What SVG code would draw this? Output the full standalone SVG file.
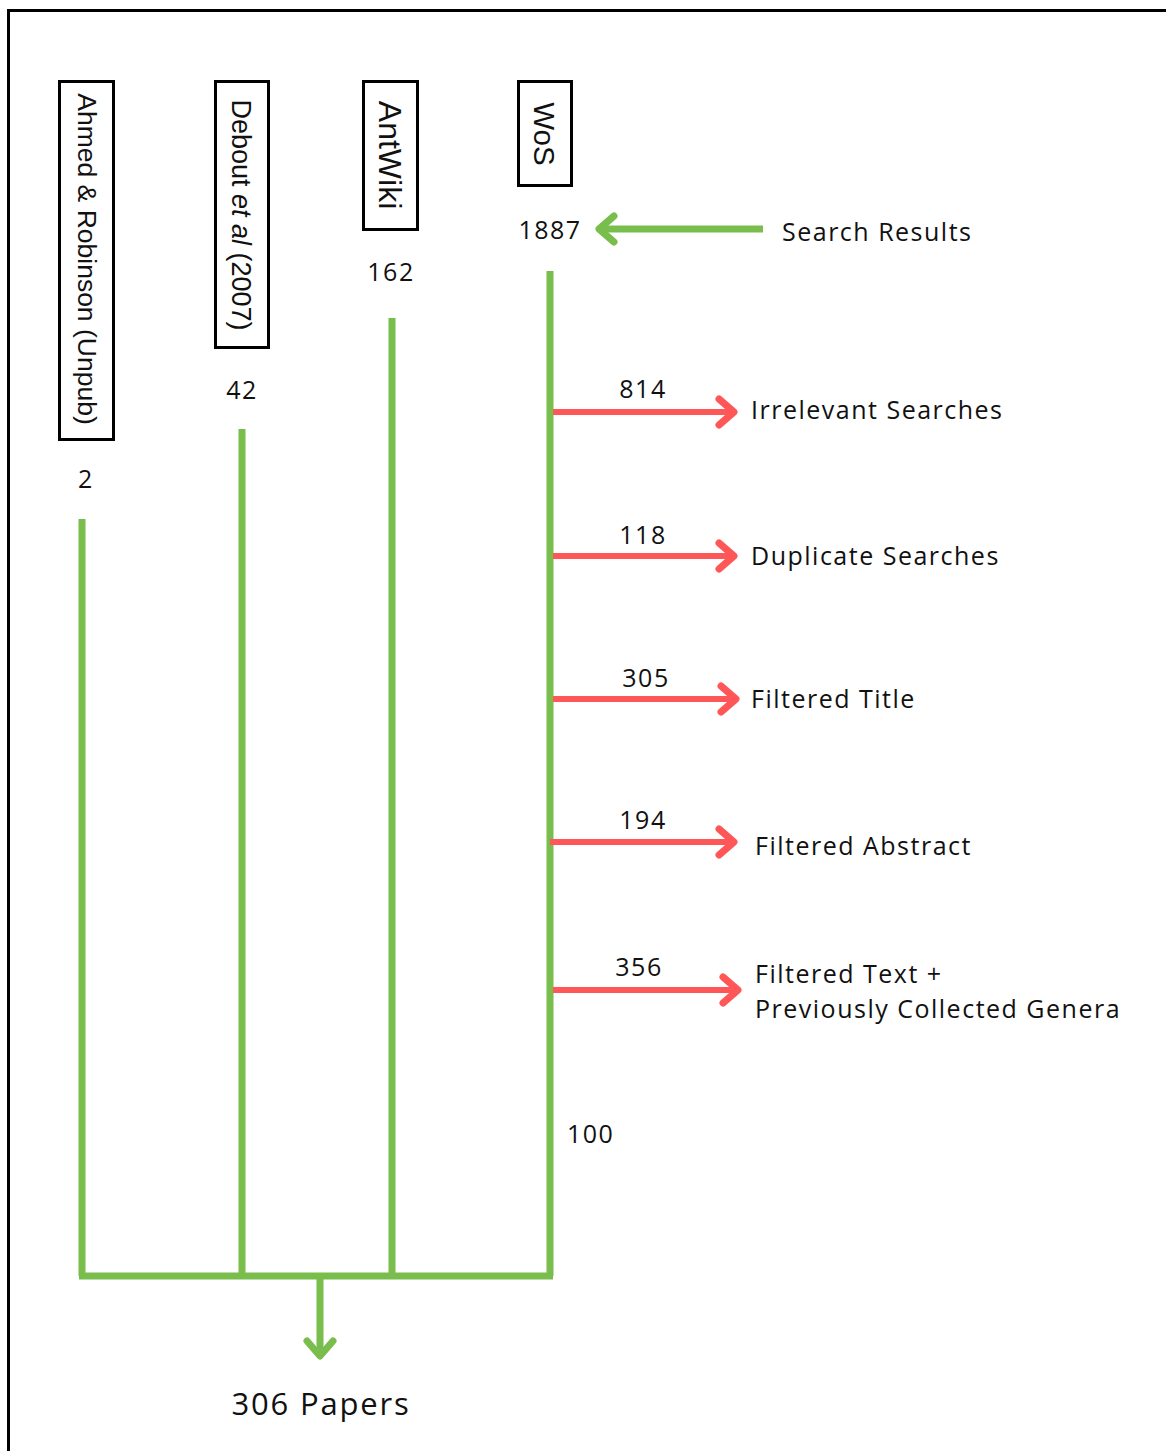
<svg xmlns="http://www.w3.org/2000/svg" width="1166" height="1451" viewBox="0 0 1166 1451">
<style>
.lbl{font-family:"Open Sans","Liberation Sans",sans-serif;font-size:25px;letter-spacing:1.5px;fill:#111}
.big{font-size:31px;letter-spacing:1.8px}
.rot{font-family:"Liberation Sans",Arial,sans-serif;fill:#111}
.box{fill:#fff;stroke:#000;stroke-width:3}
.g{stroke:#79BD4C;stroke-width:7;fill:none}
.r{stroke:#FF5757;stroke-width:6;fill:none}
.head{fill:none;stroke-linecap:round;stroke-linejoin:round;stroke-width:7}
</style>
<rect x="0" y="0" width="1166" height="1451" fill="#fff"/>
<rect x="8.5" y="10.5" width="1170" height="1460" fill="none" stroke="#000" stroke-width="3"/>

<g id="connectors">
  <path class="g" d="M82 519 V1276 M242 429 V1276 M392 318 V1276 M550 271 V1276 M79 1276 H553"/>
  <path class="g" d="M320 1276 V1355"/>
  <path class="g head" d="M307 1341 L320 1356 L333 1341"/>
  <path class="g" d="M600 229 H763"/>
  <path class="g head" d="M614 216 L599 229 L614 242"/>
  <g>
    <path class="r" d="M553 412 H734 M553 556 H734 M553 699 H736 M550 842 H734 M553 990 H738"/>
    <path class="r head" d="M719 399 L734 412 L719 425"/>
    <path class="r head" d="M719 543 L734 556 L719 569"/>
    <path class="r head" d="M721 686 L736 699 L721 712"/>
    <path class="r head" d="M719 829 L734 842 L719 855"/>
    <path class="r head" d="M723 977 L738 990 L723 1003"/>
  </g>
</g>

<g id="node-ahmed">
  <rect class="box" x="59.5" y="81.5" width="54" height="358"/>
  <text class="rot" font-size="26.5" transform="translate(87,259) rotate(90)" text-anchor="middle" dominant-baseline="central">Ahmed &amp; Robinson (Unpub)</text>
  <text class="lbl" x="86" y="488" text-anchor="middle">2</text>
</g>
<g id="node-debout">
  <rect class="box" x="215.5" y="81.5" width="53" height="266"/>
  <text class="rot" font-size="27" transform="translate(241,215) rotate(90)" text-anchor="middle" dominant-baseline="central">Debout <tspan font-style="italic">et al</tspan> (2007)</text>
  <text class="lbl" x="242" y="399" text-anchor="middle">42</text>
</g>
<g id="node-antwiki">
  <rect class="box" x="363.5" y="81.5" width="54" height="148"/>
  <text class="rot" font-size="32" transform="translate(390,155) rotate(90)" text-anchor="middle" dominant-baseline="central">AntWiki</text>
  <text class="lbl" x="391" y="281" text-anchor="middle">162</text>
</g>
<g id="node-wos">
  <rect class="box" x="518.5" y="81.5" width="53" height="104"/>
  <text class="rot" font-size="29.5" transform="translate(544,134) rotate(90)" text-anchor="middle" dominant-baseline="central">WoS</text>
  <text class="lbl" x="550" y="239" text-anchor="middle">1887</text>
</g>

<g id="node-search"><text class="lbl" x="782" y="241">Search Results</text></g>
<g id="node-irrelevant">
  <text class="lbl" x="643" y="398" text-anchor="middle">814</text>
  <text class="lbl" x="751" y="419">Irrelevant Searches</text>
</g>
<g id="node-duplicate">
  <text class="lbl" x="643" y="544" text-anchor="middle">118</text>
  <text class="lbl" x="751" y="565">Duplicate Searches</text>
</g>
<g id="node-title">
  <text class="lbl" x="646" y="687" text-anchor="middle">305</text>
  <text class="lbl" x="751" y="708">Filtered Title</text>
</g>
<g id="node-abstract">
  <text class="lbl" x="643" y="829" text-anchor="middle">194</text>
  <text class="lbl" x="755" y="855">Filtered Abstract</text>
</g>
<g id="node-text">
  <text class="lbl" x="639" y="976" text-anchor="middle">356</text>
  <text class="lbl" x="755" y="983">Filtered Text +</text>
  <text class="lbl" x="755" y="1018">Previously Collected Genera</text>
</g>
<g id="node-100"><text class="lbl" x="567" y="1143">100</text></g>
<g id="node-papers"><text class="lbl big" x="321" y="1415" text-anchor="middle">306 Papers</text></g>
</svg>
